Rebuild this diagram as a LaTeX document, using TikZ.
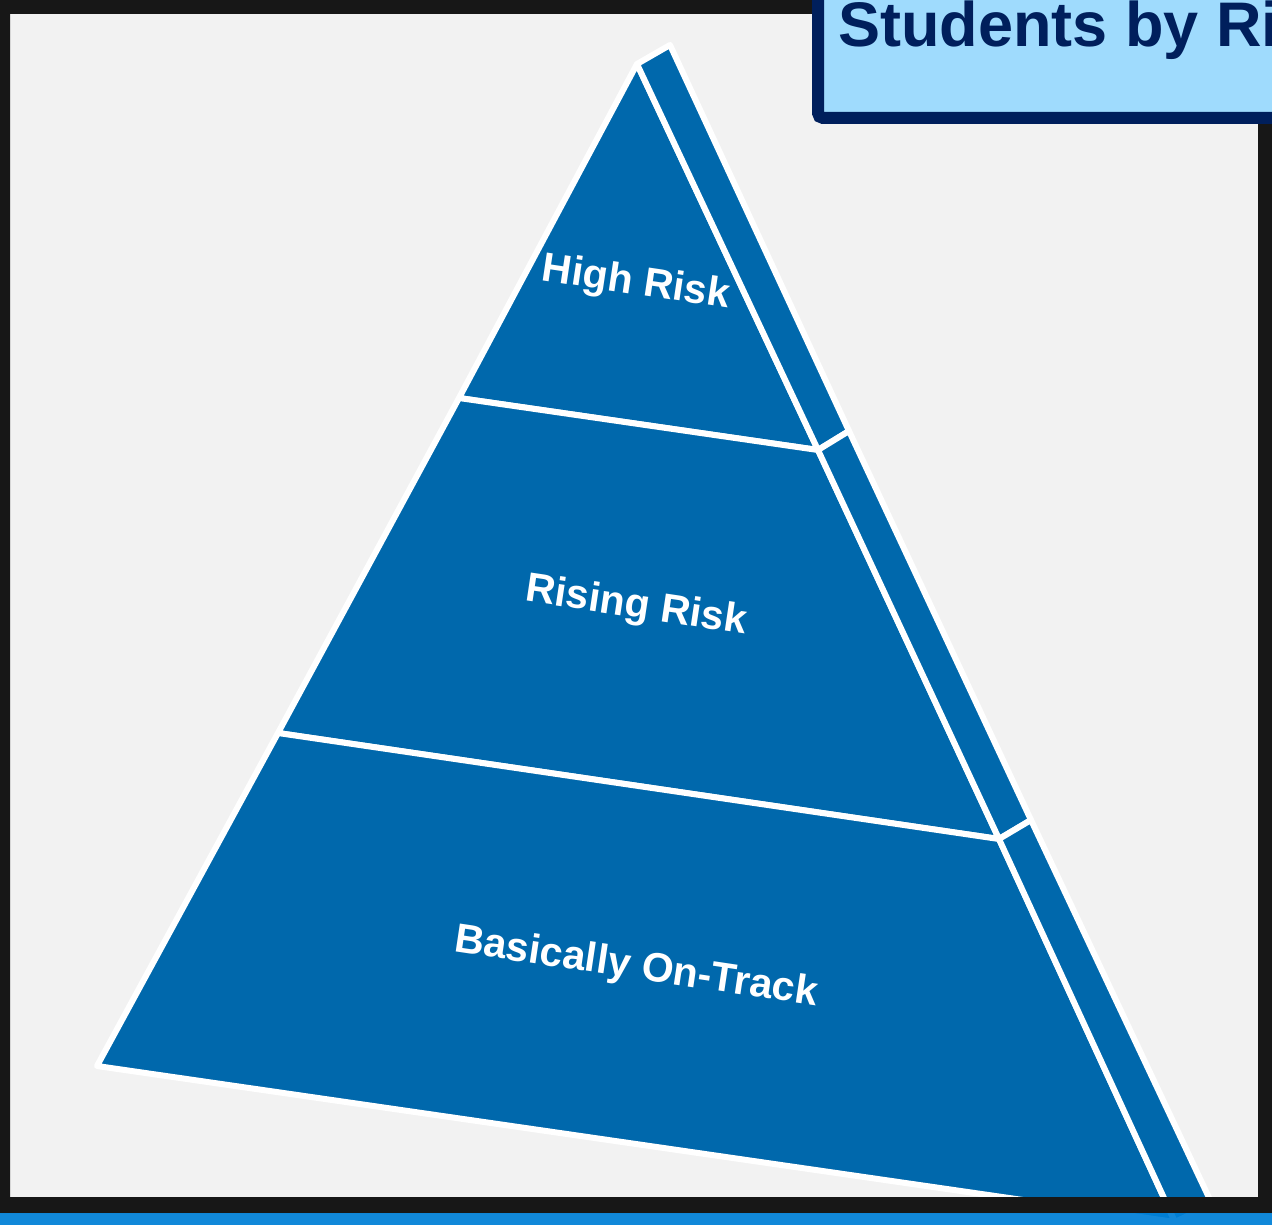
\documentclass[tikz,border=0pt]{standalone}
\usepackage{fontspec}
\setmainfont{Liberation Sans}
\usetikzlibrary{positioning}
\definecolor{pyrblue}{RGB}{0,104,172}
\definecolor{framedark}{RGB}{23,23,23}
\definecolor{slidegray}{RGB}{242,242,242}
\definecolor{stripblue}{RGB}{0,128,216}
\definecolor{titlenavy}{RGB}{0,31,92}
\definecolor{titlefill}{RGB}{159,219,253}

\begin{document}
\begin{tikzpicture}[x=1pt, y=-1pt,
			face/.style={fill=pyrblue, draw=white, line width=6pt, line join=round},
			tier/.style={text=white, font=\fontsize{41}{49}\selectfont\bfseries, rotate=-8.5, inner sep=0pt}
		]
		\useasboundingbox (0,0) rectangle (1272,1225);
		\clip (0,0) rectangle (1272,1225);
		\fill[slidegray] (0,0) rectangle (1272,1225);
		% front corners
		\coordinate (apex) at (637,64);
		\coordinate (upL) at (459,398);
		\coordinate (upR) at (818,450);
		\coordinate (loL) at (278,733);
		\coordinate (loR) at (999,839);
		\coordinate (baseL) at (97,1066);
		\coordinate (baseR) at (1175,1222);
		% back corners of the side
		\coordinate (apexB) at (670,45);
		\coordinate (upRB) at (849,431);
		\coordinate (loRB) at (1031,820);
		\coordinate (baseRB) at (1212,1204);
		% front face
		\filldraw[face] (apex) -- (upL) -- (upR) -- cycle;
		\filldraw[face] (upL) -- (loL) -- (loR) -- (upR) -- cycle;
		\filldraw[face] (loL) -- (baseL) -- (baseR) -- (loR) -- cycle;
		% side face
		\foreach \a/\b in {apex/upR, upR/loR, loR/baseR} {
				\filldraw[face] (\a) -- (\a B) -- (\b B) -- (\b) -- cycle;
			}
		% tier labels
		\node[tier] (high) at (636,284) {High Risk};
		\node[tier] (rising) at (636,607) {Rising Risk};
		\node[tier] (ontrack) at (636,968) {Basically On-Track};
		% frame and bottom strip
		\fill[framedark, even odd rule] (0,0) rectangle (1272,1213) (10,14) rectangle (1258,1197);
		\fill[stripblue, opacity=0.93] (0,1213) rectangle (1272,1225);
		% title box
		\node[draw=titlenavy, line width=12pt, fill=titlefill, rounded corners=5pt, outer sep=0pt,
			minimum width=520pt, minimum height=170pt, anchor=south west] (titlebox) at (818,118) {};
		\node[anchor=base west, text=titlenavy, inner sep=0pt,
			font=\fontsize{63}{70}\selectfont\bfseries] (title) at (838,47) {Students by Ri};
	\end{tikzpicture}
\end{document}
